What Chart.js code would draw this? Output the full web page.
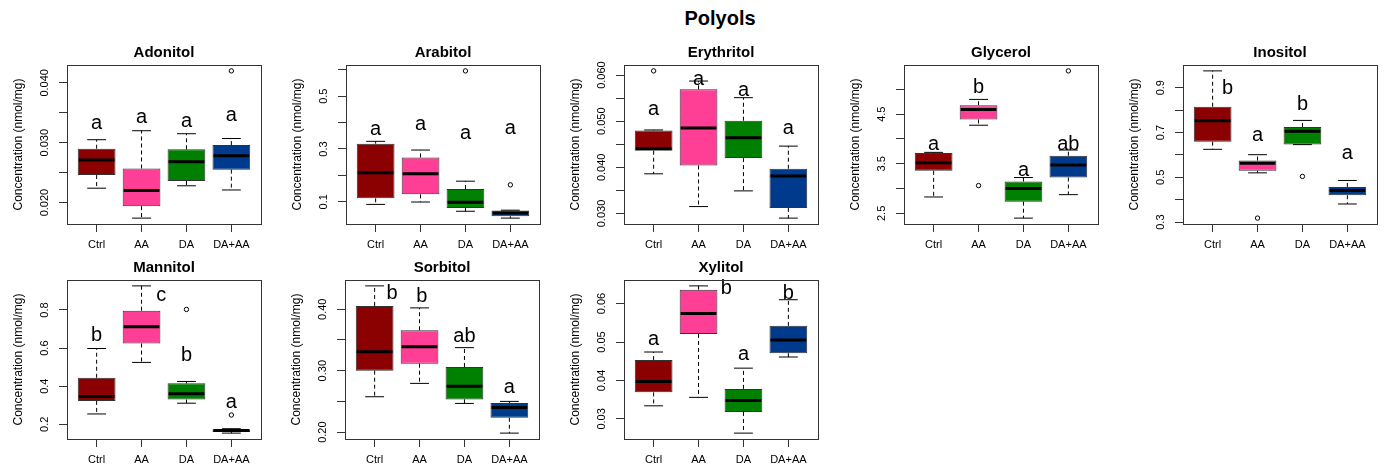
<!DOCTYPE html>
<html lang="en">
  <head>
    <meta charset="UTF-8" />
    <title>Polyols</title>
    <script src="https://cdn.jsdelivr.net/npm/chart.js"></script>
    <style>
      body {
        margin: 0;
        width: 1384px;
        height: 472px;
        background: #fff;
        position: relative;
        overflow: hidden;
        font-family: "Liberation Sans", Arial, sans-serif;
      }
      #main-title {
        position: absolute;
        left: 720px;
        top: 7px;
        transform: translateX(-50%);
        font-size: 20px;
        font-weight: bold;
        color: #000;
      }
      canvas {
        position: absolute;
      }
    </style>
  </head>
  <body>
    <div id="main-title">Polyols</div>
    <div id="panels"></div>
    <script>
      // groups and colours
      const groups = ["Ctrl", "AA", "DA", "DA+AA"]
      const groupColors = ["#8B0000", "#FF3E96", "#008000", "#003A8C"]

      // each box: [lower whisker, Q1, median, Q3, upper whisker]
      const adonitolBox = [
        [0.0224, 0.0246, 0.0271, 0.029, 0.0305],
        [0.0174, 0.0194, 0.022, 0.0257, 0.032],
        [0.0228, 0.0236, 0.0268, 0.0289, 0.0315],
        [0.0221, 0.0255, 0.0278, 0.0296, 0.0307],
      ]
      const adonitolOut = [[], [], [], [0.042]]
      const adonitolLetters = ["a", "a", "a", "a"]
      const adonitolLetterX = [1, 2, 3, 4]
      const adonitolLetterY = [0.0333, 0.0343, 0.0337, 0.0347]
      const adonitolTicks = [0.02, 0.025, 0.03, 0.035, 0.04]
      const adonitolTickLabels = ["0.020", "", "0.030", "", "0.040"]

      const arabitolBox = [
        [0.09, 0.113, 0.21, 0.32, 0.329],
        [0.099, 0.128, 0.206, 0.268, 0.296],
        [0.064, 0.076, 0.098, 0.148, 0.178],
        [0.038, 0.045, 0.057, 0.067, 0.068],
      ]
      const arabitolOut = [[], [], [0.596], [0.164]]
      const arabitolLetters = ["a", "a", "a", "a"]
      const arabitolLetterX = [1, 2, 3, 4]
      const arabitolLetterY = [0.379, 0.398, 0.362, 0.381]
      const arabitolTicks = [0.1, 0.2, 0.3, 0.4, 0.5, 0.6]
      const arabitolTickLabels = ["0.1", "", "0.3", "", "0.5", ""]

      const erythritolBox = [
        [0.0386, 0.0436, 0.0441, 0.048, 0.0481],
        [0.0315, 0.0404, 0.0485, 0.0569, 0.0587],
        [0.0349, 0.042, 0.0464, 0.0501, 0.0551],
        [0.029, 0.0312, 0.0381, 0.0397, 0.0446],
      ]
      const erythritolOut = [[0.0609], [], [], []]
      const erythritolLetters = ["a", "a", "a", "a"]
      const erythritolLetterX = [1, 2, 3, 4]
      const erythritolLetterY = [0.0528, 0.0592, 0.0569, 0.0486]
      const erythritolTicks = [0.03, 0.035, 0.04, 0.045, 0.05, 0.055, 0.06]
      const erythritolTickLabels = ["0.030", "", "0.040", "", "0.050", "", "0.060"]

      const glycerolBox = [
        [2.831, 3.358, 3.52, 3.716, 3.73],
        [4.277, 4.392, 4.595, 4.682, 4.797],
        [2.405, 2.736, 3.0, 3.142, 3.223],
        [2.878, 3.223, 3.473, 3.662, 3.777],
      ]
      const glycerolOut = [[], [3.061], [], [5.372]]
      const glycerolLetters = ["a", "b", "a", "ab"]
      const glycerolLetterX = [1, 2, 3, 4]
      const glycerolLetterY = [3.919, 5.054, 3.392, 3.905]
      const glycerolTicks = [2.5, 3.0, 3.5, 4.0, 4.5, 5.0]
      const glycerolTickLabels = ["2.5", "", "3.5", "", "4.5", ""]

      const inositolBox = [
        [0.625, 0.659, 0.752, 0.815, 0.975],
        [0.52, 0.529, 0.563, 0.575, 0.601],
        [0.646, 0.646, 0.706, 0.725, 0.754],
        [0.381, 0.42, 0.441, 0.457, 0.486],
      ]
      const inositolOut = [[], [0.318], [0.504], []]
      const inositolLetters = ["b", "a", "b", "a"]
      const inositolLetterX = [1.33, 2, 3, 4]
      const inositolLetterY = [0.903, 0.691, 0.828, 0.613]
      const inositolTicks = [0.3, 0.4, 0.5, 0.6, 0.7, 0.8, 0.9]
      const inositolTickLabels = ["0.3", "", "0.5", "", "0.7", "", "0.9"]

      const mannitolBox = [
        [0.2545, 0.323, 0.346, 0.4445, 0.598],
        [0.525, 0.624, 0.712, 0.796, 0.9265],
        [0.311, 0.33, 0.36, 0.415, 0.425],
        [0.154, 0.16, 0.168, 0.174, 0.177],
      ]
      const mannitolOut = [[], [], [0.803], [0.249]]
      const mannitolLetters = ["b", "c", "b", "a"]
      const mannitolLetterX = [1, 2.44, 3, 4]
      const mannitolLetterY = [0.671, 0.879, 0.568, 0.32]
      const mannitolTicks = [0.2, 0.4, 0.6, 0.8]
      const mannitolTickLabels = ["0.2", "0.4", "0.6", "0.8"]

      const sorbitolBox = [
        [0.2576, 0.3, 0.331, 0.4054, 0.438],
        [0.2793, 0.3114, 0.339, 0.3658, 0.4022],
        [0.2467, 0.2533, 0.2745, 0.306, 0.3375],
        [0.1984, 0.2234, 0.2402, 0.2473, 0.25],
      ]
      const sorbitolOut = [[], [], [], []]
      const sorbitolLetters = ["b", "b", "ab", "a"]
      const sorbitolLetterX = [1.39, 2.05, 3, 4]
      const sorbitolLetterY = [0.428, 0.4228, 0.3576, 0.2739]
      const sorbitolTicks = [0.2, 0.25, 0.3, 0.35, 0.4]
      const sorbitolTickLabels = ["0.20", "", "0.30", "", "0.40"]

      const xylitolBox = [
        [0.0334, 0.0369, 0.0397, 0.0453, 0.0474],
        [0.0356, 0.0521, 0.0574, 0.0636, 0.0646],
        [0.0263, 0.0318, 0.0348, 0.0378, 0.0432],
        [0.0461, 0.0471, 0.0505, 0.0542, 0.061],
      ]
      const xylitolOut = [[], [], [], []]
      const xylitolLetters = ["a", "b", "a", "b"]
      const xylitolLetterX = [1, 2.62, 3, 4]
      const xylitolLetterY = [0.0508, 0.0642, 0.047, 0.063]
      const xylitolTicks = [0.03, 0.04, 0.05, 0.06]
      const xylitolTickLabels = ["0.03", "0.04", "0.05", "0.06"]

      const panels = [
        { title: "Adonitol", box: adonitolBox, out: adonitolOut, letters: adonitolLetters, lx: adonitolLetterX, ly: adonitolLetterY, ticks: adonitolTicks, tickLabels: adonitolTickLabels, left: 0, top: 40 },
        { title: "Arabitol", box: arabitolBox, out: arabitolOut, letters: arabitolLetters, lx: arabitolLetterX, ly: arabitolLetterY, ticks: arabitolTicks, tickLabels: arabitolTickLabels, left: 279, top: 40 },
        { title: "Erythritol", box: erythritolBox, out: erythritolOut, letters: erythritolLetters, lx: erythritolLetterX, ly: erythritolLetterY, ticks: erythritolTicks, tickLabels: erythritolTickLabels, left: 557, top: 40 },
        { title: "Glycerol", box: glycerolBox, out: glycerolOut, letters: glycerolLetters, lx: glycerolLetterX, ly: glycerolLetterY, ticks: glycerolTicks, tickLabels: glycerolTickLabels, left: 837, top: 40 },
        { title: "Inositol", box: inositolBox, out: inositolOut, letters: inositolLetters, lx: inositolLetterX, ly: inositolLetterY, ticks: inositolTicks, tickLabels: inositolTickLabels, left: 1116, top: 40 },
        { title: "Mannitol", box: mannitolBox, out: mannitolOut, letters: mannitolLetters, lx: mannitolLetterX, ly: mannitolLetterY, ticks: mannitolTicks, tickLabels: mannitolTickLabels, left: 0, top: 255 },
        { title: "Sorbitol", box: sorbitolBox, out: sorbitolOut, letters: sorbitolLetters, lx: sorbitolLetterX, ly: sorbitolLetterY, ticks: sorbitolTicks, tickLabels: sorbitolTickLabels, left: 278, top: 255 },
        { title: "Xylitol", box: xylitolBox, out: xylitolOut, letters: xylitolLetters, lx: xylitolLetterX, ly: xylitolLetterY, ticks: xylitolTicks, tickLabels: xylitolTickLabels, left: 557, top: 255 },
      ]

      Chart.defaults.font.family = '"Liberation Sans", Arial, sans-serif'
      Chart.defaults.color = "#000"

      const lineColor = "#333"

      // whiskers, medians, outliers, letters, frame and y labels
      const boxExtras = {
        id: "boxExtras",
        afterDatasetsDraw(chart, args, p) {
          const { ctx, chartArea, scales } = chart
          const x = scales.x
          const y = scales.y
          const meta = chart.getDatasetMeta(0)

          function seg(x1, y1, x2, y2) {
            ctx.beginPath()
            ctx.moveTo(x1, y1)
            ctx.lineTo(x2, y2)
            ctx.stroke()
          }

          ctx.save()
          ctx.strokeStyle = "#000"
          p.box.forEach((s, i) => {
            const cx = x.getPixelForValue(i + 1)
            const bw = meta.data[i].width
            const [lo, q1, med, q3, hi] = s.map((v) => y.getPixelForValue(v))
            ctx.lineWidth = 1
            ctx.setLineDash([4, 3])
            if (hi < q3) seg(cx, q3, cx, hi)
            if (lo > q1) seg(cx, q1, cx, lo)
            ctx.setLineDash([])
            seg(cx - bw / 4, hi, cx + bw / 4, hi)
            seg(cx - bw / 4, lo, cx + bw / 4, lo)
            ctx.lineWidth = 3
            seg(cx - bw / 2 + 1, med, cx + bw / 2 - 1, med)

            ctx.lineWidth = 1
            p.out[i].forEach((v) => {
              ctx.beginPath()
              ctx.arc(cx, y.getPixelForValue(v), 2.2, 0, Math.PI * 2)
              ctx.stroke()
            })
          })

          // significance letters
          ctx.fillStyle = "#000"
          ctx.font = '20px "Liberation Sans", Arial, sans-serif'
          ctx.textAlign = "center"
          ctx.textBaseline = "middle"
          p.letters.forEach((t, i) => {
            ctx.fillText(t, x.getPixelForValue(p.lx[i]), y.getPixelForValue(p.ly[i]) + 1)
          })

          // frame
          ctx.strokeStyle = lineColor
          ctx.lineWidth = 1
          ctx.strokeRect(
            Math.round(chartArea.left) + 0.5,
            Math.round(chartArea.top) + 0.5,
            Math.round(chartArea.right - chartArea.left),
            Math.round(chartArea.bottom - chartArea.top)
          )

          // rotated y tick labels
          ctx.font = '11px "Liberation Sans", Arial, sans-serif'
          p.ticks.forEach((v, i) => {
            if (!p.tickLabels[i]) return
            ctx.save()
            ctx.translate(chartArea.left - 22, y.getPixelForValue(v))
            ctx.rotate(-Math.PI / 2)
            ctx.fillText(p.tickLabels[i], 0, 0)
            ctx.restore()
          })
          ctx.restore()
        },
      }

      const holder = document.getElementById("panels")

      panels.forEach((p) => {
        const canvas = document.createElement("canvas")
        canvas.width = 268
        canvas.height = 215
        canvas.style.left = p.left + "px"
        canvas.style.top = p.top + "px"
        holder.appendChild(canvas)

        // R style y range: data range plus 4% on each side
        const all = p.box.flat().concat(p.out.flat())
        const dMin = Math.min(...all)
        const dMax = Math.max(...all)
        const pad = (dMax - dMin) * 0.04

        new Chart(canvas, {
          type: "bar",
          data: {
            datasets: [
              {
                data: p.box.map((s, i) => ({ x: i + 1, y: [s[1], s[3]] })),
                backgroundColor: groupColors,
                borderColor: lineColor,
                borderWidth: 1,
                borderSkipped: false,
                categoryPercentage: 1,
                barPercentage: 0.84,
              },
            ],
          },
          options: {
            responsive: false,
            animation: false,
            events: [],
            layout: { padding: { left: 0, right: 7, top: 0, bottom: 1 } },
            plugins: {
              legend: { display: false },
              tooltip: { enabled: false },
              title: {
                display: true,
                fullSize: false,
                text: p.title,
                color: "#000",
                font: { size: 15, weight: "bold" },
                padding: { top: 4, bottom: 3 },
              },
              boxExtras: p,
            },
            scales: {
              x: {
                type: "linear",
                min: 0.34,
                max: 4.66,
                offset: false,
                afterBuildTicks: (s) => {
                  s.ticks = groups.map((g, i) => ({ value: i + 1 }))
                },
                afterFit: (s) => {
                  s.height = 30
                },
                ticks: {
                  callback: (v, i) => groups[i],
                  font: { size: 11 },
                  color: "#000",
                  padding: 6,
                  autoSkip: false,
                  maxRotation: 0,
                },
                grid: { drawOnChartArea: false, offset: false, tickLength: 8, color: lineColor },
                border: { color: lineColor },
              },
              y: {
                min: dMin - pad,
                max: dMax + pad,
                afterBuildTicks: (s) => {
                  s.ticks = p.ticks.map((v) => ({ value: v }))
                },
                afterFit: (s) => {
                  s.width = 67
                },
                ticks: { display: false },
                title: {
                  display: true,
                  text: "Concentration (nmol/mg)",
                  color: "#000",
                  font: { size: 12 },
                  padding: { top: 11, bottom: 0 },
                },
                grid: { drawOnChartArea: false, tickLength: 8, color: lineColor },
                border: { color: lineColor },
              },
            },
          },
          plugins: [boxExtras],
        })
      })
    </script>
  </body>
</html>
